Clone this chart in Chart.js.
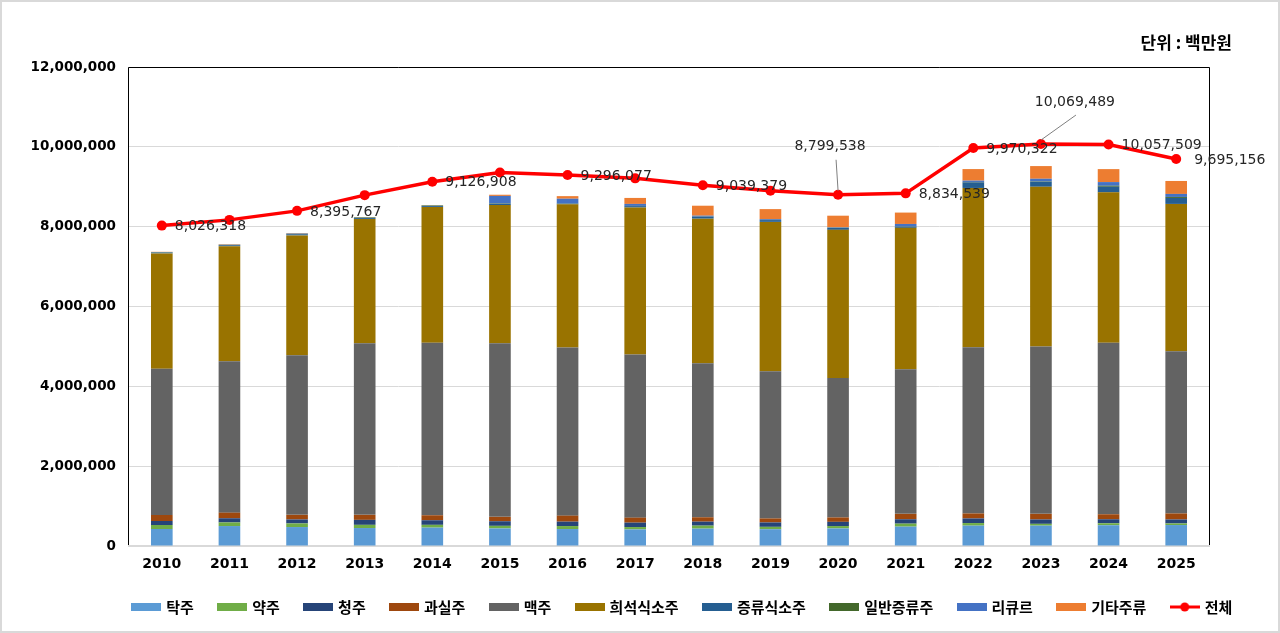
<!DOCTYPE html>
<html lang="ko">
<head>
<meta charset="utf-8">
<title>주종별 출고금액</title>
<script src="https://cdn.jsdelivr.net/npm/chart.js@4.4.1/dist/chart.umd.min.js"></script>
<style>
  html, body { margin: 0; padding: 0; background: #fff; }
  #wrap { width: 1280px; height: 633px; }
</style>
</head>
<body>
<div id="wrap"><canvas id="chart"></canvas></div>
<script>
// 단위 : 백만원
var years = ['2010', '2011', '2012', '2013', '2014', '2015', '2016', '2017',
             '2018', '2019', '2020', '2021', '2022', '2023', '2024', '2025'];

var takju    = [426000, 500000, 475000, 450000, 460000, 440000, 425000, 415000, 435000, 420000, 440000, 485000, 510000, 510000, 520000, 525000];
var yakju    = [100000, 90000, 90000, 80000, 70000, 65000, 75000, 60000, 75000, 60000, 60000, 75000, 65000, 45000, 50000, 40000];
var cheongju = [100000, 105000, 100000, 125000, 115000, 115000, 110000, 110000, 100000, 110000, 105000, 110000, 115000, 110000, 100000, 100000];
var gwasilju = [150000, 140000, 115000, 125000, 125000, 110000, 150000, 125000, 110000, 100000, 110000, 135000, 125000, 140000, 125000, 150000];
var maekju   = [3664000, 3795000, 4000000, 4300000, 4320000, 4350000, 4210000, 4090000, 3860000, 3690000, 3495000, 3625000, 4165000, 4195000, 4295000, 4065000];
var heuiseok = [2890000, 2880000, 3000000, 3110000, 3400000, 3460000, 3590000, 3680000, 3620000, 3740000, 3710000, 3540000, 3990000, 4000000, 3770000, 3690000];
var jeungryu = [20000, 25000, 30000, 25000, 25000, 30000, 20000, 35000, 45000, 45000, 50000, 35000, 140000, 125000, 140000, 150000];
var ilban    = [10000, 10000, 10000, 15000, 15000, 10000, 5000, 5000, 5000, 5000, 5000, 5000, 10000, 10000, 25000, 25000];
var liqueur  = [5000, 5000, 10000, 5000, 5000, 190000, 115000, 50000, 25000, 20000, 10000, 58000, 33000, 65000, 92000, 75000];
var gita     = [5000, 10000, 10000, 5000, 5000, 30000, 65000, 150000, 250000, 250000, 290000, 285000, 290000, 318000, 325000, 325000];
var total    = [8026318, 8170000, 8395767, 8790000, 9126908, 9357000, 9296077, 9210000, 9039379, 8900000, 8799538, 8834539, 9970322, 10069489, 10057509, 9695156];

var yTicks = [0, 2000000, 4000000, 6000000, 8000000, 10000000, 12000000];

// which points of 전체 get a label, and where
var labelPlace = [
  {i: 0}, {i: 2}, {i: 4}, {i: 6}, {i: 8},
  {i: 10, above: true, dx: -8, dy: -48, lx: -2},
  {i: 11}, {i: 12},
  {i: 13, above: true, dx: 34, dy: -42, lx: 35},
  {i: 14},
  {i: 15, dx: 18}
];

var numFont = '"DejaVu Sans", "Noto Sans CJK KR", sans-serif';
var krFont = '"Noto Sans CJK KR", "DejaVu Sans", sans-serif';

function fmt(v) { return Number(v).toLocaleString('en-US'); }

function bar(label, data, color) {
  return { type: 'bar', label: label, data: data, backgroundColor: color, borderWidth: 0,
           stack: 'drinks', barPercentage: 0.32, categoryPercentage: 1, order: 1 };
}

function boxImg(color) {
  var c = document.createElement('canvas');
  c.width = 30; c.height = 8;
  var g = c.getContext('2d');
  g.fillStyle = color;
  g.fillRect(0, 0, 30, 8);
  return c;
}

function lineImg(color) {
  var c = document.createElement('canvas');
  c.width = 30; c.height = 12;
  var g = c.getContext('2d');
  g.strokeStyle = color; g.lineWidth = 3;
  g.beginPath(); g.moveTo(0, 6); g.lineTo(30, 6); g.stroke();
  g.fillStyle = color;
  g.beginPath(); g.arc(15, 6, 4.5, 0, Math.PI * 2); g.fill();
  return c;
}

var plotFrame = {
  id: 'plotFrame',
  afterLayout: function(chart) {
    // legend starts under the plot, not at the page edge
    chart.legend.left = 108;
  },
  beforeDatasetsDraw: function(chart) {
    var a = chart.chartArea, ctx = chart.ctx;
    ctx.save();
    ctx.strokeStyle = '#000'; ctx.lineWidth = 1;
    ctx.beginPath();
    ctx.moveTo(a.left + 0.5, a.bottom);
    ctx.lineTo(a.left + 0.5, a.top + 0.5);
    ctx.lineTo(a.right - 0.5, a.top + 0.5);
    ctx.lineTo(a.right - 0.5, a.bottom);
    ctx.stroke();
    ctx.strokeStyle = '#d9d9d9'; ctx.lineWidth = 2;
    ctx.beginPath();
    ctx.moveTo(a.left, a.bottom); ctx.lineTo(a.right, a.bottom);
    ctx.stroke();
    ctx.restore();
  },
  afterDraw: function(chart) {
    var ctx = chart.ctx;
    ctx.save();
    ctx.strokeStyle = '#d9d9d9'; ctx.lineWidth = 2;
    ctx.strokeRect(1, 1, chart.width - 2, chart.height - 2);
    ctx.font = 'bold 17px ' + krFont;
    ctx.fillStyle = '#000';
    ctx.textAlign = 'right'; ctx.textBaseline = 'middle';
    ctx.fillText('단위 : 백만원', 1232, 43);
    ctx.restore();
  }
};

var totalLabels = {
  id: 'totalLabels',
  afterDatasetsDraw: function(chart) {
    var idx = chart.data.datasets.length - 1;
    var pts = chart.getDatasetMeta(idx).data;
    var vals = chart.data.datasets[idx].data;
    var ctx = chart.ctx;
    ctx.save();
    ctx.font = '14px ' + numFont;
    ctx.fillStyle = '#262626';
    ctx.textBaseline = 'middle';
    labelPlace.forEach(function(p) {
      var pt = pts[p.i];
      var txt = fmt(vals[p.i]);
      if (p.above) {
        var lx = pt.x + p.dx, ly = pt.y + p.dy;
        ctx.strokeStyle = '#7f7f7f'; ctx.lineWidth = 1;
        ctx.beginPath();
        ctx.moveTo(pt.x + p.lx, ly + 13);
        ctx.lineTo(pt.x, pt.y - 4);
        ctx.stroke();
        ctx.textAlign = 'center';
        ctx.fillText(txt, lx, ly);
      } else {
        ctx.textAlign = 'left';
        ctx.fillText(txt, pt.x + (p.dx || 13), pt.y + 1);
      }
    });
    ctx.restore();
  }
};

var ctx = document.getElementById('chart').getContext('2d');
var chart = new Chart(ctx, {
  data: {
    labels: years,
    datasets: [
      bar('탁주', takju, '#5B9BD5'),
      bar('약주', yakju, '#70AD47'),
      bar('청주', cheongju, '#264478'),
      bar('과실주', gwasilju, '#9E480E'),
      bar('맥주', maekju, '#636363'),
      bar('희석식소주', heuiseok, '#997300'),
      bar('증류식소주', jeungryu, '#255E91'),
      bar('일반증류주', ilban, '#43682B'),
      bar('리큐르', liqueur, '#4472C4'),
      bar('기타주류', gita, '#ED7D31'),
      {
        type: 'line', label: '전체', data: total, stack: 'total', order: 0,
        borderColor: '#FF0000', backgroundColor: '#FF0000', borderWidth: 3.5,
        pointRadius: 5, pointBackgroundColor: '#FF0000', pointBorderWidth: 0,
        tension: 0
      }
    ]
  },
  options: {
    responsive: true,
    maintainAspectRatio: false,
    animation: false,
    layout: { padding: { left: 20, right: 0, top: 67, bottom: 8.5 } },
    scales: {
      x: {
        stacked: true,
        grid: { display: false, drawTicks: false },
        border: { display: false },
        ticks: { color: '#000', padding: 10, font: { family: numFont, size: 14, weight: 'bold' } },
        afterFit: function(s) { s.height = 27.7; }
      },
      y: {
        stacked: true,
        min: 0, max: 12000000,
        grid: { color: '#d9d9d9', drawTicks: false },
        border: { display: false },
        afterBuildTicks: function(s) { s.ticks = yTicks.map(function(v) { return { value: v }; }); },
        ticks: {
          color: '#000', padding: 12,
          font: { family: numFont, size: 13.5, weight: 'bold' },
          callback: function(v) { return fmt(v); }
        },
        afterFit: function(s) { s.width = 108; }
      },
      y2: {
        position: 'right',
        display: true,
        grid: { display: false, drawTicks: false },
        border: { display: false },
        ticks: { display: false },
        afterFit: function(s) { s.width = 70; }
      }
    },
    plugins: {
      tooltip: { enabled: false },
      legend: {
        position: 'bottom',
        align: 'start',
        labels: {
          usePointStyle: true,
          pointStyleWidth: 25,
          boxHeight: 8,
          padding: 25.8,
          color: '#000',
          font: { family: krFont, size: 15, weight: 'bold' },
          generateLabels: function(chart) {
            var items = Chart.defaults.plugins.legend.labels.generateLabels(chart);
            items.forEach(function(it) {
              var ds = chart.data.datasets[it.datasetIndex];
              it.pointStyle = ds.type === 'line' ? lineImg(ds.borderColor) : boxImg(ds.backgroundColor);
            });
            return items;
          },
          sort: function(a, b) { return a.datasetIndex - b.datasetIndex; }
        }
      }
    }
  },
  plugins: [plotFrame, totalLabels]
});
</script>
</body>
</html>
